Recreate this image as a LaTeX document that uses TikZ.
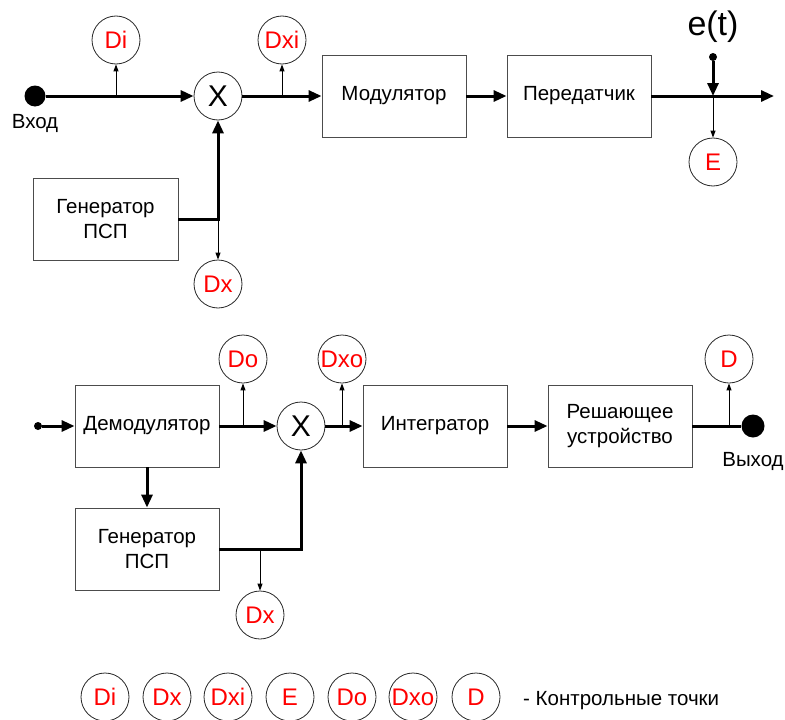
\documentclass[tikz,border=0pt]{standalone}
\usepackage{fontspec}
\setmainfont{Liberation Sans}
\usetikzlibrary{arrows.meta}
\begin{document}
\begin{tikzpicture}[x=1pt,y=-1pt,
  every node/.style={font=\fontsize{20.5}{24.5}\selectfont},
  blk/.style={draw=black!70, line width=0.9pt, minimum width=144pt, minimum height=82pt, align=center, inner sep=0pt},
  cpt/.style={circle, draw=black!85, line width=0.8pt, minimum size=48pt, inner sep=0pt, text=red, font=\fontsize{24}{26}\selectfont},
  mixer/.style={circle, draw=black!85, line width=0.8pt, minimum size=48pt, inner sep=0pt, font=\fontsize{30}{32}\selectfont},
  bigdot/.style={circle, fill=black, minimum size=21pt, inner sep=0pt},
  smalldot/.style={circle, fill=black, minimum size=7pt, inner sep=0pt},
  thk/.style={line width=3pt},
  thkarr/.style={line width=3pt, -{Triangle[length=13pt,width=11pt]}},
  thnarr/.style={line width=1pt, -{Triangle[length=7pt,width=5pt]}},
]
\useasboundingbox (0,0) rectangle (785,720);

% ---------------- transmitter ----------------
\node[bigdot] (inDot) at (35,96) {};
\node (inTxt) at (35,123) {Вход};
\node[cpt] (Di) at (116,40) {Di};
\node[mixer] (X1) at (218,96) {X};
\node[cpt] (Dxi) at (282,40) {Dxi};
\node[blk] (mod) at (394,96) {Модулятор};
\node[blk] (tx) at (579,96) {Передатчик};
\node[font=\fontsize{34}{36}\selectfont] (et) at (713,27) {e(t)};
\node[smalldot, minimum size=8pt] (eDot) at (713,57) {};
\node[cpt] (E) at (713,162) {E};
\node[blk, minimum width=145pt] (gen1) at (105.5,219) {Генератор\\ПСП};
\node[cpt] (Dx1) at (218,284) {Dx};

\coordinate (c1) at (116,96);
\coordinate (c2) at (282,96);
\coordinate (j1) at (218,219);
\coordinate (cross) at (713,96);
\coordinate (outEnd) at (774,96);

\draw[thkarr] (inDot) -- (X1);
\draw[thnarr] (c1) -- (Di);
\draw[thkarr] (X1) -- (mod);
\draw[thnarr] (c2) -- (Dxi);
\draw[thkarr] (mod) -- (tx);
\draw[thkarr] (tx) -- (outEnd);
\draw[thkarr] (eDot) -- (cross);
\draw[thnarr] (cross) -- (E);
\draw[thkarr] (gen1.east) -- (j1) -- (X1);
\draw[thnarr] (j1) -- (Dx1);

% ---------------- receiver ----------------
\node[smalldot, minimum size=8pt] (inDot2) at (38,426) {};
\node[blk] (dem) at (147,426) {Демодулятор};
\node[cpt] (Do) at (243,359) {Do};
\node[mixer] (X2) at (301,426) {X};
\node[cpt] (Dxo) at (342,359) {Dxo};
\node[blk] (integ) at (435,426) {Интегратор};
\node[blk] (dec) at (620,426) {Решающее\\устройство};
\node[cpt] (D) at (729,359) {D};
\node[bigdot, minimum size=23pt] (outDot) at (753,426) {};
\node (outTxt) at (753,461) {Выход};
\node[blk] (gen2) at (147,549) {Генератор\\ПСП};
\node[cpt] (Dx2) at (260,615) {Dx};

\coordinate (c3) at (243,426);
\coordinate (c4) at (342,426);
\coordinate (c5) at (729,426);
\coordinate (j2) at (301,549);
\coordinate (t2) at (260,549);

\draw[thkarr] (inDot2) -- (dem);
\draw[thkarr] (dem) -- (X2);
\draw[thnarr] (c3) -- (Do);
\draw[thkarr] (X2) -- (integ);
\draw[thnarr] (c4) -- (Dxo);
\draw[thkarr] (integ) -- (dec);
\draw[thk] (dec) -- (outDot);
\draw[thnarr] (c5) -- (D);
\draw[thkarr] (dem) -- (gen2);
\draw[thkarr] (gen2.east) -- (j2) -- (X2);
\draw[thnarr] (t2) -- (Dx2);

% ---------------- legend ----------------
\node[cpt] (lDi) at (105,697) {Di};
\node[cpt] (lDx) at (167,697) {Dx};
\node[cpt] (lDxi) at (228,697) {Dxi};
\node[cpt] (lE) at (290,697) {E};
\node[cpt] (lDo) at (352,697) {Do};
\node[cpt] (lDxo) at (413,697) {Dxo};
\node[cpt] (lD) at (476,697) {D};
\node[anchor=base west, inner sep=0pt] (legTxt) at (523,705) {- Контрольные точки};
\end{tikzpicture}
\end{document}
